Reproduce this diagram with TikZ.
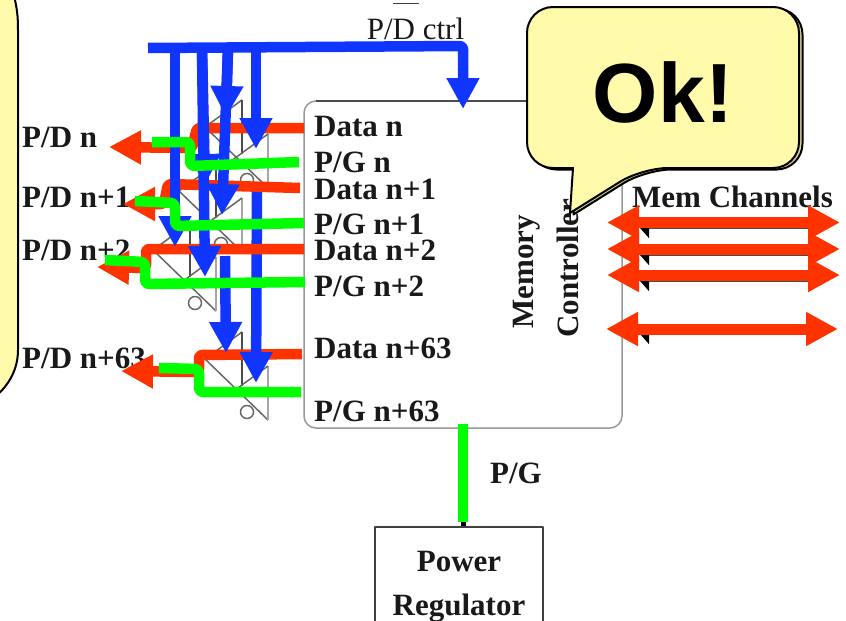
\documentclass[tikz,border=0pt]{standalone}
\usepackage{fontspec}
\setmainfont{Liberation Serif}
\newfontfamily\okfont{Liberation Sans}
\usetikzlibrary{arrows.meta}
\definecolor{wireblue}{HTML}{1035FF}
\definecolor{wirered}{HTML}{FF3300}
\definecolor{wiregreen}{HTML}{00FF00}
\definecolor{noteyellow}{HTML}{FFFBAA}
\newcommand{\labelfont}{\fontsize{31}{44}\selectfont}
\newcommand{\okpath}{(527,88) [rounded corners=26pt] -- (527,7) -- (799,7) -- (799,168) -- (642,168) [sharp corners] -- (570,213) -- (573,168) [rounded corners=26pt] -- (527,168) -- cycle}
\begin{document}
\begin{tikzpicture}[x=1pt,y=-1pt,line join=round]
  \tikzstyle{every node}=[font=\labelfont\bfseries,inner sep=0pt,text=black!90]
  \tikzstyle{sig}=[anchor=west]
  \tikzstyle{bluewire}=[draw=wireblue,line width=10.5pt,-{Triangle[length=31pt,width=31pt]},wireblue]
  \tikzstyle{redwire}=[draw=wirered,line width=10.5pt,rounded corners=3pt,-{Triangle[length=32pt,width=32pt]},wirered]
  \tikzstyle{greenwire}=[draw=wiregreen,line width=10.5pt,rounded corners=4pt]
  \tikzstyle{channel}=[draw=wirered,line width=11pt,{Triangle[length=32pt,width=32pt]}-{Triangle[length=32pt,width=32pt]},wirered]
  \tikzstyle{thinchannel}=[draw=black!70,line width=1.5pt,{Triangle[length=9pt,width=20pt,black]}-]
  \tikzstyle{bubble}=[fill=noteyellow,draw=black,line width=2pt]

  \clip (0,0) rectangle (846,621);
  \fill[white] (0,0) rectangle (846,621);

  % controller and regulator
  \node[draw=black!40,line width=1.5pt,rounded corners=12pt,minimum width=318pt,minimum height=327pt] (mc) at (463,264.5) {};
  \draw[black!70,line width=1.5pt] (316,101) -- (530,101);
  \node[draw=black!75,line width=1.5pt,anchor=north,minimum width=168pt,align=center,inner ysep=24pt] (reg) at (459,526) {Power\\Regulator};

  % tristate buffers
  \foreach \dx/\dy in {0/-232,-26/-168,-52/-109,0/0}{
    \begin{scope}[shift={(\dx,\dy)},black!60,line width=1.5pt]
      \draw (205,359) -- (242,332);
      \draw[black!70] (242,332) -- (242,386);
      \draw (205,359) -- (268,420);
      \draw[black!35] (268,366) -- (268,420);
      \draw (268,366) -- (231,393);
      \draw (247,412) circle (6.5);
    \end{scope}
  }

  % labels
  \node[sig] (pdn) at (22,137) {P/D n};
  \node[sig] (pdna) at (22,197) {P/D n+1};
  \node[sig] (pdnb) at (22,250) {P/D n+2};
  \node[sig] (pdnc) at (22,358) {P/D n+63};
  \node[sig] (datan) at (314,127) {Data n};
  \node[sig] (pgn) at (314,162) {P/G n};
  \node[sig] (datana) at (314,189) {Data n+1};
  \node[sig] (pgna) at (314,224) {P/G n+1};
  \node[sig] (datanb) at (314,250) {Data n+2};
  \node[sig] (pgnb) at (314,286) {P/G n+2};
  \node[sig] (datanc) at (314,348) {Data n+63};
  \node[sig] (pgnc) at (314,411) {P/G n+63};
  \node[font=\labelfont] (ctrl) at (415.5,29) {P/D ctrl};
  \draw[black!75,line width=1pt] (393,3) -- (419,3);
  \node[rotate=90] (mem) at (527,272) {Memory};
  \node[rotate=90] (con) at (568,268) {Controller};
  \node[sig] (mch) at (632,197) {Mem Channels};
  \node (pg) at (516,473) {P/G};

  % wire ends
  \coordinate (busl) at (148,48);
  \coordinate (busr) at (463,109);
  \coordinate (da) at (304,128);
  \coordinate (db) at (300,188);
  \coordinate (dc) at (304,249);
  \coordinate (dd) at (302,354);
  \coordinate (ga) at (299,162);
  \coordinate (gb) at (304,223);
  \coordinate (gc) at (305,282);
  \coordinate (gd) at (301,392);
  \coordinate (oa) at (109,147);
  \coordinate (ob) at (123,204);
  \coordinate (oc) at (97,267);
  \coordinate (od) at (121,371);
  \coordinate (pa) at (152,142);
  \coordinate (pb) at (135,201);
  \coordinate (pc) at (105,260);
  \coordinate (pd) at (159,368);

  % channels
  \foreach \y in {228,255,281,334}{
    \coordinate (cl) at (640,\y);
    \coordinate (cr) at (808,\y);
    \draw[thinchannel] (cl) -- (cr);
  }
  \foreach \y/\xa/\xb in {222.5/607/840,249/607/840,275/607/840,329/606/838}{
    \coordinate (cl) at (\xa,\y);
    \coordinate (cr) at (\xb,\y);
    \draw[channel] (cl) -- (cr);
  }

  % output data and control
  \draw[redwire] (dd) -- (199,355) -- (199,372) -- (od);
  \coordinate (longs) at (257,192);
  \coordinate (longe) at (256,383);
  \draw[bluewire] (longs) -- (longe);
  \draw[redwire] (dc) -- (146,249) -- (146,268) -- (oc);
  \draw[redwire] (da) -- (197,128) -- (192,148) -- (oa);
  \draw[redwire] (db) -- (168,184) -- (164,204) -- (ob);
  \draw[draw=wireblue,line width=10.5pt,rounded corners=3pt,-{Triangle[length=31pt,width=31pt]},wireblue] (busl) -- (463,46) -- (busr);
  \foreach \xa/\xb/\yb in {175/175/247,202/205/277,202/205/185,228/226/117,228/222/215,256/256/149}{
    \coordinate (s) at (\xa,48);
    \coordinate (e) at (\xb,\yb);
    \draw[bluewire] (s) -- (e);
  }
  \coordinate (shorts) at (225,256);
  \coordinate (shorte) at (226,353);
  \draw[bluewire] (shorts) -- (shorte);

  % power and ground
  \draw[greenwire] (ga) -- (190,166) -- (190,142) -- (pa);
  \draw[greenwire] (gb) -- (175,226) -- (175,203) -- (pb);
  \draw[greenwire] (gc) -- (145,284) -- (145,262) -- (pc);
  \draw[greenwire] (gd) -- (199,392) -- (199,369) -- (pd);
  \coordinate (pgt) at (463,424);
  \coordinate (pgb) at (463,522);
  \draw[black,line width=5pt] (pgb) -- (mc.south |- reg.north);
  \draw[greenwire] (pgt) -- (pgb);

  % callouts
  \draw[bubble] (14,-4) .. controls (17,8) and (18,16) .. (18,30) -- (18,350) .. controls (18,368) and (10,384) .. (-4,396) -- (-30,396) -- (-30,-4) -- cycle;
  \draw[bubble,fill=noteyellow!85!black,xshift=3.5pt,yshift=-1.5pt] \okpath;
  \draw[bubble] \okpath;
  \node[font=\okfont\bfseries\fontsize{84}{90}\selectfont,text=black] (ok) at (663,92) {Ok!};
\end{tikzpicture}
\end{document}
